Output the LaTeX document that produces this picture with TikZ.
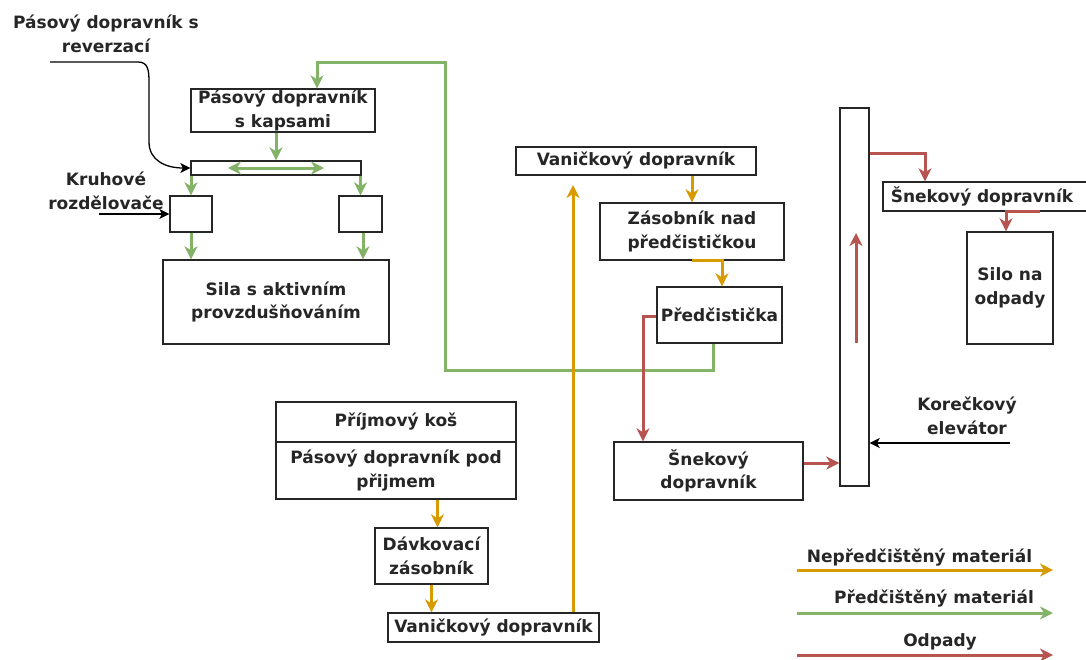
\documentclass[tikz,border=0pt]{standalone}
\usepackage{fontspec}
\setmainfont{DejaVu Sans}
\usetikzlibrary{arrows.meta,calc}
\definecolor{yel}{HTML}{D79B00}
\definecolor{grn}{HTML}{82B366}
\definecolor{rd}{HTML}{B85450}
\tikzset{flowtip/.tip={Stealth[length=13pt,width=13pt,inset=4pt]}}
\begin{document}
\begin{tikzpicture}[x=1pt,y=-1pt,
  every node/.style={font=\fontsize{17}{23.5}\selectfont\bfseries, text=black!85},
  box/.style={draw=black!85, line width=1.4pt, inner sep=0pt, align=center, fill=white},
  lbl/.style={inner sep=0pt, align=center},
  flow/.style={line width=3pt, -{flowtip}},
  yf/.style={flow, draw=yel},
  gf/.style={flow, draw=grn},
  rf/.style={flow, draw=rd},
  blk/.style={draw=black, line width=1.3pt, -{Stealth[length=10pt,width=10pt,inset=2.5pt]}}
]
\useasboundingbox (0,0) rectangle (1086,659);

% boxes
\node[box, minimum width=184, minimum height=43] (kap) at (283,110.5) {Pásový dopravník\\s kapsami};
\node[box, minimum width=170, minimum height=14] (bar) at (276,168) {};
\node[box, minimum width=42, minimum height=36] (kl) at (191,214) {};
\node[box, minimum width=43, minimum height=36] (kr) at (360.5,214) {};
\node[box, minimum width=226, minimum height=84] (sila) at (276,302) {Sila s aktivním\\provzdušňováním};
\node[box, minimum width=240, minimum height=28] (van1) at (636,161) {Vaničkový dopravník};
\node[box, minimum width=184, minimum height=57] (zas) at (692,231.5) {Zásobník nad\\předčističkou};
\node[box, minimum width=125, minimum height=56] (pred) at (719.5,315) {Předčistička};
\node[box, minimum width=189, minimum height=58] (snek1) at (708.5,471) {Šnekový\\dopravník};
\node[box, minimum width=29, minimum height=378] (elev) at (854.5,297) {};
\node[box, minimum width=210, minimum height=29, text width=200pt] (snek2) at (988,196.5) {\hspace*{-12pt}Šnekový dopravník};
\node[box, minimum width=86, minimum height=112] (silo) at (1010,288) {Silo na\\odpady};
\node[box, minimum width=240, minimum height=40] (kos) at (396,422) {Příjmový koš};
\node[box, minimum width=240, minimum height=57] (pod) at (396,470.5) {Pásový dopravník pod\\přijmem};
\node[box, minimum width=113, minimum height=56] (dav) at (431.5,556) {Dávkovací\\zásobník};
\node[box, minimum width=211, minimum height=29] (van2) at (493.5,627.5) {Vaničkový dopravník};

% labels
\node[lbl] (trev) at (106,34) {Pásový dopravník s\\reverzací};
\node[lbl] (tkruh) at (106,191) {Kruhové\\rozdělovače};
\node[lbl] (tkor) at (967,416) {Korečkový\\elevátor};
\node[lbl] (l1) at (919.5,558) {Nepředčištěný materiál};
\node[lbl] (l2) at (934,599) {Předčištěný materiál};
\node[lbl] (l3) at (940,642) {Odpady};

% coordinates
\coordinate (revs) at (50,62);
\coordinate (kruhs) at (99,214);
\coordinate (kors) at (1010,443);
\coordinate (vtip) at (573,185);
\coordinate (eb) at (856,343);
\coordinate (et) at (856,233);
\coordinate (ya) at (797,570); \coordinate (yb) at (1053,570);
\coordinate (ga) at (797,613); \coordinate (gb) at (1053,613);
\coordinate (ra) at (797,655); \coordinate (rb) at (1053,655);

% black arrows
\draw[blk] (revs) -- (138,62) .. controls (148,62) and (149,70) .. (149,82) -- (149,142) .. controls (149,160) and (165,168) .. (bar.west);
\draw[blk] (kruhs) -- (kl.west);
\draw[blk] (kors) -- (kors -| elev.east);

% green
\draw[gf] ([xshift=-6.5pt]pred.south) -- ++(0,27) -| (445,62) -| ([xshift=34pt]kap.north);
\draw[gf] (bar.north |- kap.south) -- (bar.north);
\draw[draw=grn, line width=3pt, {flowtip}-{flowtip}] ([xshift=-48pt]bar.center) -- ([xshift=48pt]bar.center);
\draw[gf] (kl.north |- bar.south) -- (kl.north);
\draw[gf] (kr.north |- bar.south) -- (kr.north);
\draw[gf] (kl.south) -- (kl.south |- sila.north);
\draw[gf] ([xshift=2.5pt]kr.south) -- ([xshift=2.5pt]kr.south |- sila.north);

% yellow
\draw[yf] (zas.north |- van1.south) -- (zas.north);
\draw[yf] (zas.south) -| ([xshift=2.5pt]pred.north);
\draw[yf] ([xshift=6pt]dav.north |- pod.south) -- ([xshift=6pt]dav.north);
\draw[yf] (dav.south) -- (dav.south |- van2.north);
\draw[yf] (van2.north -| vtip) -- (vtip);

% red
\draw[rf] ([yshift=-1pt]pred.west) -| ([xshift=-65.5pt]snek1.north);
\draw[rf] ([yshift=8pt]snek1.east) -- ([yshift=8pt]snek1.east -| elev.west);
\draw[rf] (eb) -- (et);
\draw[rf] ([yshift=144pt]elev.east) -| (snek2.north -| 925,0);
\draw[rf] (1040,211) -| ([xshift=-4pt]silo.north);

% legend
\draw[yf] (ya) -- (yb);
\draw[gf] (ga) -- (gb);
\draw[rf] (ra) -- (rb);
\end{tikzpicture}
\end{document}
